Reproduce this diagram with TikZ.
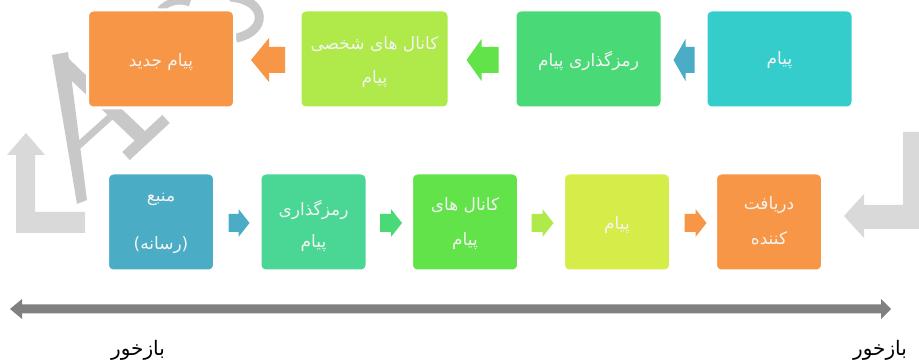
\documentclass[tikz,border=0pt]{standalone}
\usepackage{fontspec}
\usetikzlibrary{calc}
\newfontfamily\fa[Script=Arabic]{DejaVu Sans}
\newfontfamily\faLat{DejaVu Sans}
\TeXXeTstate=1
\definecolor{cOrange}{HTML}{F79646}
\definecolor{cLime}{HTML}{AFE94A}
\definecolor{cGreen}{HTML}{4AD977}
\definecolor{cCyan}{HTML}{35CCCC}
\definecolor{cBlue}{HTML}{4BACC6}
\definecolor{cTeal}{HTML}{4AD694}
\definecolor{cGrass}{HTML}{62E34A}
\definecolor{cYellow}{HTML}{D6EC48}
\definecolor{cLight}{HTML}{D9D9D9}
\definecolor{cWm}{HTML}{C8C8C8}
\definecolor{cFb}{HTML}{808080}
\definecolor{cTxt}{HTML}{F4F4F4}
\newcommand\LArrow[6]{\fill[#1] (#2) -- ++(#3,-#4) -- ++(0,#4-#5) -- ++(#6,0) -- ++(0,2*#5) -- ++(-#6,0) -- ++(0,#4-#5) -- cycle;}
\newcommand\RArrow[6]{\fill[#1] (#2) -- ++(-#3,-#4) -- ++(0,#4-#5) -- ++(-#6,0) -- ++(0,2*#5) -- ++(#6,0) -- ++(0,#4-#5) -- cycle;}
\begin{document}
\begin{tikzpicture}[x=1pt,y=-1pt,
  box/.style={rounded corners=6pt, draw=white, line width=3pt, minimum height=98pt, inner sep=0pt},
  topbox/.style={box, minimum width=147pt},
  botbox/.style={box, minimum width=107pt},
  txt/.style={font=\fa\fontsize{17}{20}\selectfont, text=cTxt, inner sep=0pt},
  lbl/.style={font=\fa\fontsize{20}{24}\selectfont, text=black, inner sep=0pt},
  wm/.style={cWm}]
\useasboundingbox (0,0) rectangle (919,363);
% watermark
\fill[wm] (52,55) -- (68,52) -- (87,200) -- (77,204) -- cycle;
\draw[wm, line width=14pt] (62,62) -- (140,136);
\draw[wm, line width=7pt] (78,146) -- (118,110);
\draw[wm, line width=11pt] (126,156) -- (166,119);
\draw[wm, line width=9pt] (230,-3) .. controls (268,0) and (268,32) .. (236,38);
\draw[wm, line width=7pt] (160,10) .. controls (168,1) and (180,-1) .. (190,3);
% bent feedback arrows
\fill[cLight] (26,133) -- (45,155) -- (35,155) -- (35,212) -- (85,212) -- (85,233) -- (16,233) -- (16,155) -- (7,155) -- cycle;
\fill[cLight] (844,216) -- (864,194) -- (864,205) -- (903,205) -- (903,132) -- (919,132) -- (919,229) -- (864,229) -- (864,238) -- cycle;
% top row
\node[topbox, fill=cCyan]   (t1) at (779.5,59) {};
\node[topbox, fill=cGreen]  (t2) at (588.5,59) {};
\node[topbox, fill=cLime, minimum width=149pt] (t3) at (374.5,59) {};
\node[topbox, fill=cOrange] (t4) at (161,59) {};
% bottom row
\node[botbox, fill=cBlue]   (b1) at (161,222) {};
\node[botbox, fill=cTeal]   (b2) at (313.5,222) {};
\node[botbox, fill=cGrass]  (b3) at (465,222) {};
\node[botbox, fill=cYellow] (b4) at (617,222) {};
\node[botbox, fill=cOrange] (b5) at (769,222) {};
% top arrows (leftwards)
\coordinate (a1) at ($(t2.east)+(10,1)$);
\coordinate (a2) at ($(t3.east)+(16,1)$);
\coordinate (a3) at ($(t4.east)+(15,1)$);
\LArrow{cBlue}{a1}{12}{21}{13}{9}
\LArrow{cGrass}{a2}{15}{21}{13}{17}
\LArrow{cOrange}{a3}{18}{22}{13}{16}
% bottom arrows (rightwards)
\coordinate (c1) at ($(b1.east)+(33.5,1)$);
\coordinate (c2) at ($(b2.east)+(33.5,1)$);
\coordinate (c3) at ($(b3.east)+(33.5,1)$);
\coordinate (c4) at ($(b4.east)+(34.5,1)$);
\RArrow{cBlue}{c1}{11}{14}{9}{10}
\RArrow{cGreen}{c2}{11}{14}{9}{11}
\RArrow{cLime}{c3}{11}{14}{9}{11}
\RArrow{cOrange}{c4}{11}{14}{9}{11}
% texts top
\node[txt] (t1a) at ($(t1.center)+(0,1)$) {\beginR پیام\endR};
\node[txt] (t2a) at ($(t2.center)+(0,2)$) {\beginR رمزگذاری پیام\endR};
\node[txt] (t3a) at ($(t3.center)+(0,-15)$) {\beginR کانال های شخصی\endR};
\node[txt] (t3b) at ($(t3.center)+(0,20)$) {\beginR پیام\endR};
\node[txt] (t4a) at ($(t4.center)+(0,3)$) {\beginR پیام جدید\endR};
% texts bottom
\node[txt] (b1a) at ($(b1.center)+(0,-23)$) {\beginR منبع\endR};
\node[txt] (b1b) at ($(b1.center)+(0,23)$) {\hbox{\faLat(}\hbox{رسانه}\hbox{\faLat)}};
\node[txt] (b2a) at ($(b2.center)+(0,-12)$) {\beginR رمزگذاری\endR};
\node[txt] (b2b) at ($(b2.center)+(0,21)$) {\beginR پیام\endR};
\node[txt] (b3a) at ($(b3.center)+(0,-17)$) {\beginR کانال های\endR};
\node[txt] (b3b) at ($(b3.center)+(0,19)$) {\beginR پیام\endR};
\node[txt] (b4a) at ($(b4.center)+(0,3)$) {\beginR پیام\endR};
\node[txt] (b5a) at ($(b5.center)+(0,-17)$) {\beginR دریافت\endR};
\node[txt] (b5b) at ($(b5.center)+(0,16)$) {\beginR کننده\endR};
% feedback double arrow
\coordinate (fL) at (10,309);
\coordinate (fR) at (891,309);
\fill[cFb] (fL) -- ($(fL)+(12,-10)$) -- ($(fL)+(12,-4.5)$) -- ($(fR)+(-10,-4.5)$) -- ($(fR)+(-10,-10)$) -- (fR) -- ($(fR)+(-10,10)$) -- ($(fR)+(-10,4.5)$) -- ($(fL)+(12,4.5)$) -- ($(fL)+(12,10)$) -- cycle;
\node[lbl] (fb1) at (138,350) {\beginR بازخور\endR};
\node[lbl] (fb2) at (880,350) {\beginR بازخور\endR};
\end{tikzpicture}
\end{document}
